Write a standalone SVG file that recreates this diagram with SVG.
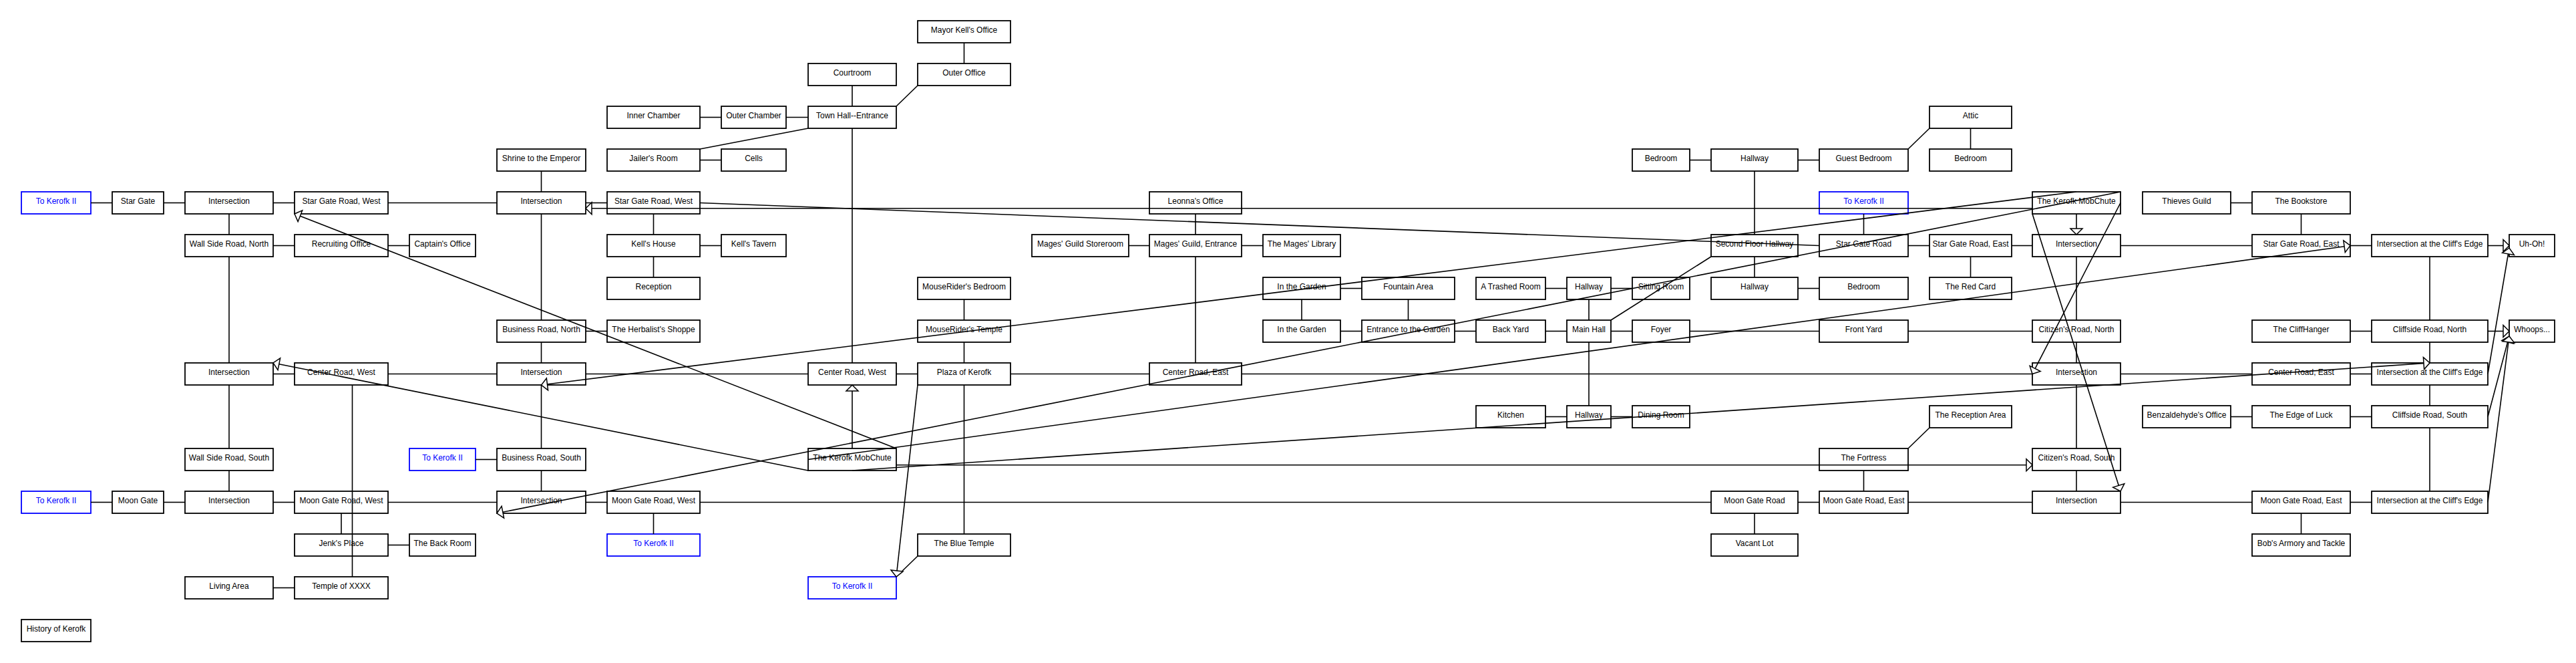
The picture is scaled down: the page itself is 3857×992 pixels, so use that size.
<svg xmlns="http://www.w3.org/2000/svg" width="3857" height="992" viewBox="0 0 3857 992">
<style>
.b rect{fill:#fff;stroke:#000;stroke-width:1.8}
.b text{font-family:"Liberation Sans",Arial,sans-serif;font-size:12px;text-anchor:middle;fill:#000}
.b.k rect{stroke:#00f}
.b.k text{fill:#00f}
#connectors line{stroke:#000;stroke-width:1.6;fill:none}
#connectors line.a{marker-end:url(#arr)}
</style>
<defs>
<marker id="arr" markerUnits="userSpaceOnUse" markerWidth="12" markerHeight="20" refX="9" refY="9" orient="auto" overflow="visible"><path d="M0,0 L9,9 L0,18 Z" fill="#fff" stroke="#000" stroke-width="1.5"/></marker>
</defs>
<rect x="0" y="0" width="3857" height="992" fill="#fff"/>
<g id="nodes">
<g id="mayor-kells-office" class="b"><rect x="1374" y="31" width="139" height="33"/><text x="1443.5" y="48.5">Mayor Kell's Office</text></g>
<g id="courtroom" class="b"><rect x="1210" y="95" width="132" height="33"/><text x="1276" y="112.5">Courtroom</text></g>
<g id="outer-office" class="b"><rect x="1374" y="95" width="139" height="33"/><text x="1443.5" y="112.5">Outer Office</text></g>
<g id="inner-chamber" class="b"><rect x="909" y="159" width="139" height="33"/><text x="978.5" y="176.5">Inner Chamber</text></g>
<g id="outer-chamber" class="b"><rect x="1080" y="159" width="97" height="33"/><text x="1128.5" y="176.5">Outer Chamber</text></g>
<g id="town-hall-entrance" class="b"><rect x="1210" y="159" width="132" height="33"/><text x="1276" y="176.5">Town Hall--Entrance</text></g>
<g id="attic" class="b"><rect x="2889" y="159" width="123" height="33"/><text x="2950.5" y="176.5">Attic</text></g>
<g id="shrine" class="b"><rect x="744" y="223" width="133" height="33"/><text x="810.5" y="240.5">Shrine to the Emperor</text></g>
<g id="jailers-room" class="b"><rect x="909" y="223" width="139" height="33"/><text x="978.5" y="240.5">Jailer's Room</text></g>
<g id="cells" class="b"><rect x="1080" y="223" width="97" height="33"/><text x="1128.5" y="240.5">Cells</text></g>
<g id="bedroom-1" class="b"><rect x="2444" y="223" width="86" height="33"/><text x="2487" y="240.5">Bedroom</text></g>
<g id="hallway-upper" class="b"><rect x="2562" y="223" width="130" height="33"/><text x="2627" y="240.5">Hallway</text></g>
<g id="guest-bedroom" class="b"><rect x="2724" y="223" width="133" height="33"/><text x="2790.5" y="240.5">Guest Bedroom</text></g>
<g id="bedroom-attic" class="b"><rect x="2889" y="223" width="123" height="33"/><text x="2950.5" y="240.5">Bedroom</text></g>
<g id="to-kerofk-1" class="b k"><rect x="32" y="287" width="104" height="33"/><text x="84" y="304.5">To Kerofk II</text></g>
<g id="star-gate" class="b"><rect x="168" y="287" width="77" height="33"/><text x="206.5" y="304.5">Star Gate</text></g>
<g id="intersection-c3r4" class="b"><rect x="277" y="287" width="132" height="33"/><text x="343" y="304.5">Intersection</text></g>
<g id="star-gate-road-west-1" class="b"><rect x="441" y="287" width="140" height="33"/><text x="511" y="304.5">Star Gate Road, West</text></g>
<g id="intersection-c6r4" class="b"><rect x="744" y="287" width="133" height="33"/><text x="810.5" y="304.5">Intersection</text></g>
<g id="star-gate-road-west-2" class="b"><rect x="909" y="287" width="139" height="33"/><text x="978.5" y="304.5">Star Gate Road, West</text></g>
<g id="leonnas-office" class="b"><rect x="1721" y="287" width="138" height="33"/><text x="1790" y="304.5">Leonna's Office</text></g>
<g id="to-kerofk-2" class="b k"><rect x="2724" y="287" width="133" height="33"/><text x="2790.5" y="304.5">To Kerofk II</text></g>
<g id="mobchute-north" class="b"><rect x="3043" y="287" width="132" height="33"/><text x="3109" y="304.5">The Kerofk MobChute</text></g>
<g id="thieves-guild" class="b"><rect x="3208" y="287" width="132" height="33"/><text x="3274" y="304.5">Thieves Guild</text></g>
<g id="bookstore" class="b"><rect x="3372" y="287" width="147" height="33"/><text x="3445.5" y="304.5">The Bookstore</text></g>
<g id="wall-side-north" class="b"><rect x="277" y="351" width="132" height="33"/><text x="343" y="368.5">Wall Side Road, North</text></g>
<g id="recruiting-office" class="b"><rect x="441" y="351" width="140" height="33"/><text x="511" y="368.5">Recruiting Office</text></g>
<g id="captains-office" class="b"><rect x="613" y="351" width="99" height="33"/><text x="662.5" y="368.5">Captain's Office</text></g>
<g id="kells-house" class="b"><rect x="909" y="351" width="139" height="33"/><text x="978.5" y="368.5">Kell's House</text></g>
<g id="kells-tavern" class="b"><rect x="1080" y="351" width="97" height="33"/><text x="1128.5" y="368.5">Kell's Tavern</text></g>
<g id="mages-storeroom" class="b"><rect x="1545" y="351" width="145" height="33"/><text x="1617.5" y="368.5">Mages' Guild Storeroom</text></g>
<g id="mages-entrance" class="b"><rect x="1721" y="351" width="138" height="33"/><text x="1790" y="368.5">Mages' Guild, Entrance</text></g>
<g id="mages-library" class="b"><rect x="1891" y="351" width="116" height="33"/><text x="1949" y="368.5">The Mages' Library</text></g>
<g id="second-floor-hallway" class="b"><rect x="2562" y="351" width="130" height="33"/><text x="2627" y="368.5">Second Floor Hallway</text></g>
<g id="star-gate-road" class="b"><rect x="2724" y="351" width="133" height="33"/><text x="2790.5" y="368.5">Star Gate Road</text></g>
<g id="star-gate-road-east-1" class="b"><rect x="2889" y="351" width="123" height="33"/><text x="2950.5" y="368.5">Star Gate Road, East</text></g>
<g id="intersection-c21r5" class="b"><rect x="3043" y="351" width="132" height="33"/><text x="3109" y="368.5">Intersection</text></g>
<g id="star-gate-road-east-2" class="b"><rect x="3372" y="351" width="147" height="33"/><text x="3445.5" y="368.5">Star Gate Road, East</text></g>
<g id="cliffs-edge-1" class="b"><rect x="3551" y="351" width="174" height="33"/><text x="3638" y="368.5">Intersection at the Cliff's Edge</text></g>
<g id="uh-oh" class="b"><rect x="3757" y="351" width="68" height="33"/><text x="3791" y="368.5">Uh-Oh!</text></g>
<g id="reception" class="b"><rect x="909" y="415" width="139" height="33"/><text x="978.5" y="432.5">Reception</text></g>
<g id="mouseriders-bedroom" class="b"><rect x="1374" y="415" width="139" height="33"/><text x="1443.5" y="432.5">MouseRider's Bedroom</text></g>
<g id="in-the-garden-1" class="b"><rect x="1891" y="415" width="116" height="33"/><text x="1949" y="432.5">In the Garden</text></g>
<g id="fountain-area" class="b"><rect x="2039" y="415" width="139" height="33"/><text x="2108.5" y="432.5">Fountain Area</text></g>
<g id="trashed-room" class="b"><rect x="2210" y="415" width="104" height="33"/><text x="2262" y="432.5">A Trashed Room</text></g>
<g id="hallway-c16r6" class="b"><rect x="2346" y="415" width="66" height="33"/><text x="2379" y="432.5">Hallway</text></g>
<g id="sitting-room" class="b"><rect x="2444" y="415" width="86" height="33"/><text x="2487" y="432.5">Sitting Room</text></g>
<g id="hallway-c18r6" class="b"><rect x="2562" y="415" width="130" height="33"/><text x="2627" y="432.5">Hallway</text></g>
<g id="bedroom-2" class="b"><rect x="2724" y="415" width="133" height="33"/><text x="2790.5" y="432.5">Bedroom</text></g>
<g id="red-card" class="b"><rect x="2889" y="415" width="123" height="33"/><text x="2950.5" y="432.5">The Red Card</text></g>
<g id="business-north" class="b"><rect x="744" y="479" width="133" height="33"/><text x="810.5" y="496.5">Business Road, North</text></g>
<g id="herbalists" class="b"><rect x="909" y="479" width="139" height="33"/><text x="978.5" y="496.5">The Herbalist's Shoppe</text></g>
<g id="mouseriders-temple" class="b"><rect x="1374" y="479" width="139" height="33"/><text x="1443.5" y="496.5">MouseRider's Temple</text></g>
<g id="in-the-garden-2" class="b"><rect x="1891" y="479" width="116" height="33"/><text x="1949" y="496.5">In the Garden</text></g>
<g id="garden-entrance" class="b"><rect x="2039" y="479" width="139" height="33"/><text x="2108.5" y="496.5">Entrance to the Garden</text></g>
<g id="back-yard" class="b"><rect x="2210" y="479" width="104" height="33"/><text x="2262" y="496.5">Back Yard</text></g>
<g id="main-hall" class="b"><rect x="2346" y="479" width="66" height="33"/><text x="2379" y="496.5">Main Hall</text></g>
<g id="foyer" class="b"><rect x="2444" y="479" width="86" height="33"/><text x="2487" y="496.5">Foyer</text></g>
<g id="front-yard" class="b"><rect x="2724" y="479" width="133" height="33"/><text x="2790.5" y="496.5">Front Yard</text></g>
<g id="citizens-north" class="b"><rect x="3043" y="479" width="132" height="33"/><text x="3109" y="496.5">Citizen's Road, North</text></g>
<g id="cliffhanger" class="b"><rect x="3372" y="479" width="147" height="33"/><text x="3445.5" y="496.5">The CliffHanger</text></g>
<g id="cliffside-north" class="b"><rect x="3551" y="479" width="174" height="33"/><text x="3638" y="496.5">Cliffside Road, North</text></g>
<g id="whoops" class="b"><rect x="3757" y="479" width="68" height="33"/><text x="3791" y="496.5">Whoops...</text></g>
<g id="intersection-c3r8" class="b"><rect x="277" y="543" width="132" height="33"/><text x="343" y="560.5">Intersection</text></g>
<g id="center-road-west-1" class="b"><rect x="441" y="543" width="140" height="33"/><text x="511" y="560.5">Center Road, West</text></g>
<g id="intersection-c6r8" class="b"><rect x="744" y="543" width="133" height="33"/><text x="810.5" y="560.5">Intersection</text></g>
<g id="center-road-west-2" class="b"><rect x="1210" y="543" width="132" height="33"/><text x="1276" y="560.5">Center Road, West</text></g>
<g id="plaza" class="b"><rect x="1374" y="543" width="139" height="33"/><text x="1443.5" y="560.5">Plaza of Kerofk</text></g>
<g id="center-road-east-1" class="b"><rect x="1721" y="543" width="138" height="33"/><text x="1790" y="560.5">Center Road, East</text></g>
<g id="intersection-c21r8" class="b"><rect x="3043" y="543" width="132" height="33"/><text x="3109" y="560.5">Intersection</text></g>
<g id="center-road-east-2" class="b"><rect x="3372" y="543" width="147" height="33"/><text x="3445.5" y="560.5">Center Road, East</text></g>
<g id="cliffs-edge-2" class="b"><rect x="3551" y="543" width="174" height="33"/><text x="3638" y="560.5">Intersection at the Cliff's Edge</text></g>
<g id="kitchen" class="b"><rect x="2210" y="607" width="104" height="33"/><text x="2262" y="624.5">Kitchen</text></g>
<g id="hallway-c16r9" class="b"><rect x="2346" y="607" width="66" height="33"/><text x="2379" y="624.5">Hallway</text></g>
<g id="dining-room" class="b"><rect x="2444" y="607" width="86" height="33"/><text x="2487" y="624.5">Dining Room</text></g>
<g id="reception-area" class="b"><rect x="2889" y="607" width="123" height="33"/><text x="2950.5" y="624.5">The Reception Area</text></g>
<g id="benzaldehydes-office" class="b"><rect x="3208" y="607" width="132" height="33"/><text x="3274" y="624.5">Benzaldehyde's Office</text></g>
<g id="edge-of-luck" class="b"><rect x="3372" y="607" width="147" height="33"/><text x="3445.5" y="624.5">The Edge of Luck</text></g>
<g id="cliffside-south" class="b"><rect x="3551" y="607" width="174" height="33"/><text x="3638" y="624.5">Cliffside Road, South</text></g>
<g id="wall-side-south" class="b"><rect x="277" y="671" width="132" height="33"/><text x="343" y="688.5">Wall Side Road, South</text></g>
<g id="to-kerofk-3" class="b k"><rect x="613" y="671" width="99" height="33"/><text x="662.5" y="688.5">To Kerofk II</text></g>
<g id="business-south" class="b"><rect x="744" y="671" width="133" height="33"/><text x="810.5" y="688.5">Business Road, South</text></g>
<g id="mobchute-south" class="b"><rect x="1210" y="671" width="132" height="33"/><text x="1276" y="688.5">The Kerofk MobChute</text></g>
<g id="fortress" class="b"><rect x="2724" y="671" width="133" height="33"/><text x="2790.5" y="688.5">The Fortress</text></g>
<g id="citizens-south" class="b"><rect x="3043" y="671" width="132" height="33"/><text x="3109" y="688.5">Citizen's Road, South</text></g>
<g id="to-kerofk-4" class="b k"><rect x="32" y="735" width="104" height="33"/><text x="84" y="752.5">To Kerofk II</text></g>
<g id="moon-gate" class="b"><rect x="168" y="735" width="77" height="33"/><text x="206.5" y="752.5">Moon Gate</text></g>
<g id="intersection-c3r11" class="b"><rect x="277" y="735" width="132" height="33"/><text x="343" y="752.5">Intersection</text></g>
<g id="moon-gate-road-west-1" class="b"><rect x="441" y="735" width="140" height="33"/><text x="511" y="752.5">Moon Gate Road, West</text></g>
<g id="intersection-c6r11" class="b"><rect x="744" y="735" width="133" height="33"/><text x="810.5" y="752.5">Intersection</text></g>
<g id="moon-gate-road-west-2" class="b"><rect x="909" y="735" width="139" height="33"/><text x="978.5" y="752.5">Moon Gate Road, West</text></g>
<g id="moon-gate-road" class="b"><rect x="2562" y="735" width="130" height="33"/><text x="2627" y="752.5">Moon Gate Road</text></g>
<g id="moon-gate-road-east-1" class="b"><rect x="2724" y="735" width="133" height="33"/><text x="2790.5" y="752.5">Moon Gate Road, East</text></g>
<g id="intersection-c21r11" class="b"><rect x="3043" y="735" width="132" height="33"/><text x="3109" y="752.5">Intersection</text></g>
<g id="moon-gate-road-east-2" class="b"><rect x="3372" y="735" width="147" height="33"/><text x="3445.5" y="752.5">Moon Gate Road, East</text></g>
<g id="cliffs-edge-3" class="b"><rect x="3551" y="735" width="174" height="33"/><text x="3638" y="752.5">Intersection at the Cliff's Edge</text></g>
<g id="jenks-place" class="b"><rect x="441" y="799" width="140" height="33"/><text x="511" y="816.5">Jenk's Place</text></g>
<g id="back-room" class="b"><rect x="613" y="799" width="99" height="33"/><text x="662.5" y="816.5">The Back Room</text></g>
<g id="to-kerofk-5" class="b k"><rect x="909" y="799" width="139" height="33"/><text x="978.5" y="816.5">To Kerofk II</text></g>
<g id="blue-temple" class="b"><rect x="1374" y="799" width="139" height="33"/><text x="1443.5" y="816.5">The Blue Temple</text></g>
<g id="vacant-lot" class="b"><rect x="2562" y="799" width="130" height="33"/><text x="2627" y="816.5">Vacant Lot</text></g>
<g id="bobs-armory" class="b"><rect x="3372" y="799" width="147" height="33"/><text x="3445.5" y="816.5">Bob's Armory and Tackle</text></g>
<g id="living-area" class="b"><rect x="277" y="863" width="132" height="33"/><text x="343" y="880.5">Living Area</text></g>
<g id="temple-xxxx" class="b"><rect x="441" y="863" width="140" height="33"/><text x="511" y="880.5">Temple of XXXX</text></g>
<g id="to-kerofk-6" class="b k"><rect x="1210" y="863" width="132" height="33"/><text x="1276" y="880.5">To Kerofk II</text></g>
<g id="history" class="b"><rect x="32" y="927" width="104" height="33"/><text x="84" y="944.5">History of Kerofk</text></g>
</g>
<g id="connectors">
<line x1="1048" y1="175.5" x2="1080" y2="175.5"/>
<line x1="1177" y1="175.5" x2="1210" y2="175.5"/>
<line x1="1048" y1="239.5" x2="1080" y2="239.5"/>
<line x1="2530" y1="239.5" x2="2562" y2="239.5"/>
<line x1="2692" y1="239.5" x2="2724" y2="239.5"/>
<line x1="136" y1="303.5" x2="168" y2="303.5"/>
<line x1="245" y1="303.5" x2="277" y2="303.5"/>
<line x1="409" y1="303.5" x2="441" y2="303.5"/>
<line x1="581" y1="303.5" x2="744" y2="303.5"/>
<line x1="877" y1="303.5" x2="909" y2="303.5"/>
<line x1="3340" y1="303.5" x2="3372" y2="303.5"/>
<line x1="409" y1="367.5" x2="441" y2="367.5"/>
<line x1="581" y1="367.5" x2="613" y2="367.5"/>
<line x1="1048" y1="367.5" x2="1080" y2="367.5"/>
<line x1="1690" y1="367.5" x2="1721" y2="367.5"/>
<line x1="1859" y1="367.5" x2="1891" y2="367.5"/>
<line x1="2857" y1="367.5" x2="2889" y2="367.5"/>
<line x1="3012" y1="367.5" x2="3043" y2="367.5"/>
<line x1="3175" y1="367.5" x2="3372" y2="367.5"/>
<line x1="3519" y1="367.5" x2="3551" y2="367.5"/>
<line x1="2007" y1="431.5" x2="2039" y2="431.5"/>
<line x1="2314" y1="431.5" x2="2346" y2="431.5"/>
<line x1="2412" y1="431.5" x2="2444" y2="431.5"/>
<line x1="2692" y1="431.5" x2="2724" y2="431.5"/>
<line x1="877" y1="495.5" x2="909" y2="495.5"/>
<line x1="2007" y1="495.5" x2="2039" y2="495.5"/>
<line x1="2178" y1="495.5" x2="2210" y2="495.5"/>
<line x1="2314" y1="495.5" x2="2346" y2="495.5"/>
<line x1="2412" y1="495.5" x2="2444" y2="495.5"/>
<line x1="2530" y1="495.5" x2="2724" y2="495.5"/>
<line x1="2857" y1="495.5" x2="3043" y2="495.5"/>
<line x1="3519" y1="495.5" x2="3551" y2="495.5"/>
<line x1="409" y1="559.5" x2="441" y2="559.5"/>
<line x1="581" y1="559.5" x2="744" y2="559.5"/>
<line x1="877" y1="559.5" x2="1210" y2="559.5"/>
<line x1="1342" y1="559.5" x2="1374" y2="559.5"/>
<line x1="1513" y1="559.5" x2="1721" y2="559.5"/>
<line x1="1859" y1="559.5" x2="3043" y2="559.5"/>
<line x1="3175" y1="559.5" x2="3372" y2="559.5"/>
<line x1="3519" y1="559.5" x2="3551" y2="559.5"/>
<line x1="2314" y1="623.5" x2="2346" y2="623.5"/>
<line x1="2412" y1="623.5" x2="2444" y2="623.5"/>
<line x1="3340" y1="623.5" x2="3372" y2="623.5"/>
<line x1="3519" y1="623.5" x2="3551" y2="623.5"/>
<line x1="712" y1="687.5" x2="744" y2="687.5"/>
<line x1="136" y1="751.5" x2="168" y2="751.5"/>
<line x1="245" y1="751.5" x2="277" y2="751.5"/>
<line x1="409" y1="751.5" x2="441" y2="751.5"/>
<line x1="581" y1="751.5" x2="744" y2="751.5"/>
<line x1="877" y1="751.5" x2="909" y2="751.5"/>
<line x1="1048" y1="751.5" x2="2562" y2="751.5"/>
<line x1="2692" y1="751.5" x2="2724" y2="751.5"/>
<line x1="2857" y1="751.5" x2="3043" y2="751.5"/>
<line x1="3175" y1="751.5" x2="3372" y2="751.5"/>
<line x1="3519" y1="751.5" x2="3551" y2="751.5"/>
<line x1="581" y1="815.5" x2="613" y2="815.5"/>
<line x1="409" y1="879.5" x2="441" y2="879.5"/>
<line x1="1443.5" y1="64" x2="1443.5" y2="95"/>
<line x1="1443.5" y1="448" x2="1443.5" y2="479"/>
<line x1="1443.5" y1="512" x2="1443.5" y2="543"/>
<line x1="1443.5" y1="576" x2="1443.5" y2="799"/>
<line x1="1276" y1="128" x2="1276" y2="159"/>
<line x1="1276" y1="192" x2="1276" y2="543"/>
<line x1="810.5" y1="256" x2="810.5" y2="287"/>
<line x1="810.5" y1="320" x2="810.5" y2="479"/>
<line x1="810.5" y1="512" x2="810.5" y2="543"/>
<line x1="810.5" y1="576" x2="810.5" y2="671"/>
<line x1="810.5" y1="704" x2="810.5" y2="735"/>
<line x1="343" y1="320" x2="343" y2="351"/>
<line x1="343" y1="384" x2="343" y2="543"/>
<line x1="343" y1="576" x2="343" y2="671"/>
<line x1="343" y1="704" x2="343" y2="735"/>
<line x1="978.5" y1="320" x2="978.5" y2="351"/>
<line x1="978.5" y1="384" x2="978.5" y2="415"/>
<line x1="978.5" y1="768" x2="978.5" y2="799"/>
<line x1="511" y1="768" x2="511" y2="799"/>
<line x1="527.5" y1="576" x2="527.5" y2="863"/>
<line x1="1790" y1="320" x2="1790" y2="351"/>
<line x1="1790" y1="384" x2="1790" y2="543"/>
<line x1="1949" y1="448" x2="1949" y2="479"/>
<line x1="2108.5" y1="448" x2="2108.5" y2="479"/>
<line x1="2379" y1="448" x2="2379" y2="479"/>
<line x1="2379" y1="512" x2="2379" y2="607"/>
<line x1="2627" y1="256" x2="2627" y2="351"/>
<line x1="2627" y1="384" x2="2627" y2="415"/>
<line x1="2627" y1="768" x2="2627" y2="799"/>
<line x1="2790.5" y1="320" x2="2790.5" y2="351"/>
<line x1="2790.5" y1="704" x2="2790.5" y2="735"/>
<line x1="2950.5" y1="192" x2="2950.5" y2="223"/>
<line x1="2950.5" y1="384" x2="2950.5" y2="415"/>
<line x1="3109" y1="384" x2="3109" y2="479"/>
<line x1="3109" y1="512" x2="3109" y2="543"/>
<line x1="3109" y1="576" x2="3109" y2="671"/>
<line x1="3109" y1="704" x2="3109" y2="735"/>
<line x1="3445.5" y1="320" x2="3445.5" y2="351"/>
<line x1="3445.5" y1="768" x2="3445.5" y2="799"/>
<line x1="3638" y1="384" x2="3638" y2="479"/>
<line x1="3638" y1="512" x2="3638" y2="543"/>
<line x1="3638" y1="576" x2="3638" y2="607"/>
<line x1="3638" y1="640" x2="3638" y2="735"/>
<line x1="1374" y1="128" x2="1342" y2="159"/>
<line x1="1210" y1="192" x2="1048" y2="223"/>
<line x1="1374" y1="832" x2="1342" y2="863"/>
<line x1="2412" y1="479" x2="2562" y2="384"/>
<line x1="2889" y1="192" x2="2857" y2="223"/>
<line x1="2857" y1="671" x2="2889" y2="640"/>
<line x1="1048" y1="303.5" x2="2724" y2="367.5"/>
<line class="a" x1="3043" y1="311.75" x2="877" y2="311.75"/>
<line class="a" x1="1342" y1="695.75" x2="3043" y2="695.75"/>
<line class="a" x1="1276" y1="671" x2="1276" y2="576"/>
<line class="a" x1="3109" y1="320" x2="3109" y2="351"/>
<line class="a" x1="1342" y1="671" x2="441" y2="320"/>
<line class="a" x1="1210" y1="704" x2="409" y2="543"/>
<line class="a" x1="1210" y1="687.5" x2="3519" y2="367.5"/>
<line class="a" x1="1276" y1="704" x2="3638" y2="543"/>
<line class="a" x1="1374" y1="576" x2="1342" y2="863"/>
<line class="a" x1="3109" y1="287" x2="810.5" y2="576"/>
<line class="a" x1="3175" y1="287" x2="744" y2="768"/>
<line class="a" x1="3043" y1="320" x2="3175" y2="735"/>
<line class="a" x1="3175" y1="303.5" x2="3043" y2="559.5"/>
<line class="a" x1="3725" y1="367.5" x2="3757" y2="367.5"/>
<line class="a" x1="3725" y1="559.5" x2="3757" y2="371"/>
<line class="a" x1="3725" y1="495.5" x2="3757" y2="495.5"/>
<line class="a" x1="3725" y1="623.5" x2="3757" y2="503"/>
<line class="a" x1="3725" y1="751.5" x2="3757" y2="503"/>
</g>
</svg>
